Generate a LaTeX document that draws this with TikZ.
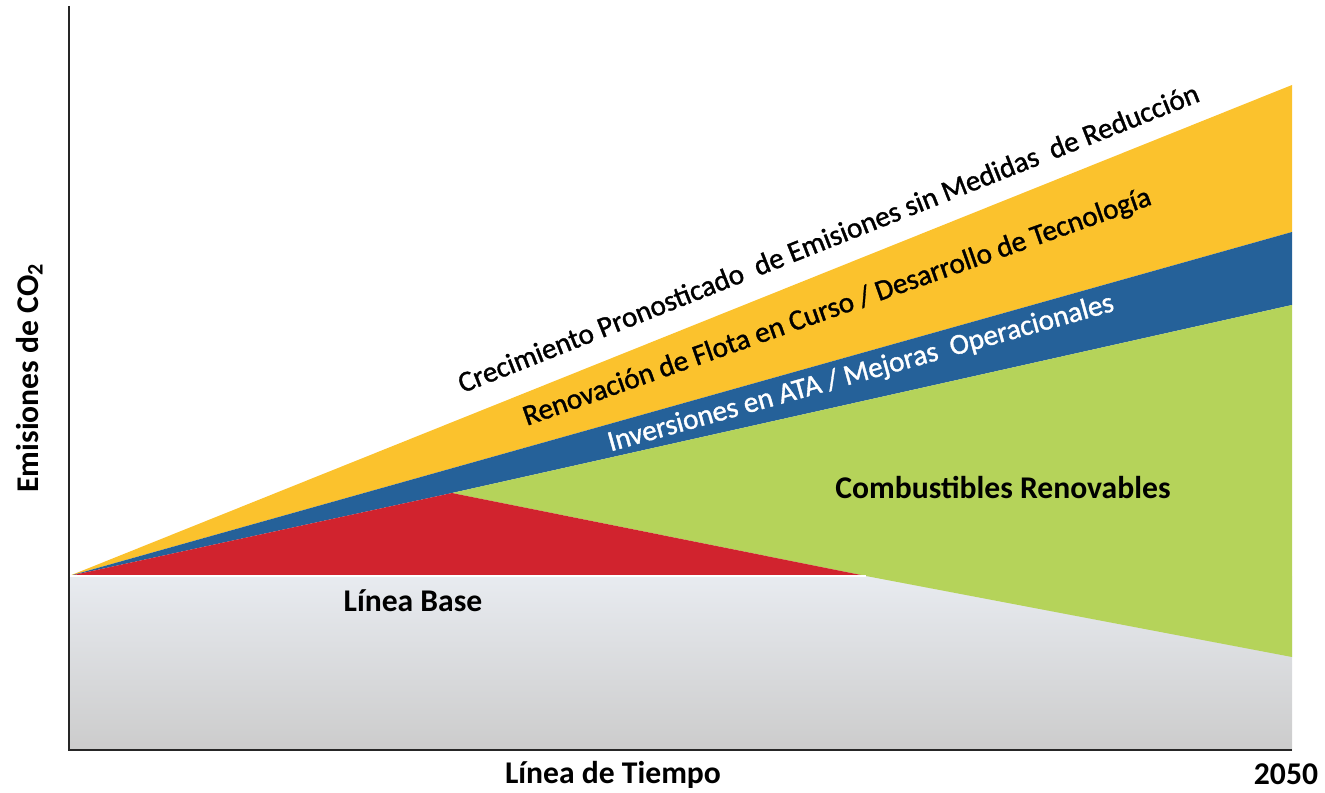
\documentclass[tikz,border=0pt]{standalone}
\usepackage{fontspec}
\setmainfont{Carlito}
\newfontfamily\bandfont{Carlito}[FakeBold=1.2]
\usetikzlibrary{positioning}
\definecolor{growYellow}{RGB}{251,194,45}
\definecolor{ataBlue}{RGB}{37,97,153}
\definecolor{fuelGreen}{RGB}{181,211,90}
\definecolor{baseRed}{RGB}{209,35,46}
\definecolor{baseTop}{RGB}{232,235,240}
\definecolor{baseMid}{RGB}{206,222,233}
\definecolor{baseBot}{RGB}{204,204,204}
\tikzset{
  bandlabel/.style={font=\bandfont\fontsize{16.6}{19}\selectfont, inner sep=0pt, anchor=base},
  arealabel/.style={font=\bfseries\fontsize{18}{21}\selectfont, inner sep=0pt, anchor=base}
}

\begin{document}
\begin{tikzpicture}[x=0.02cm,y=-0.02cm]
        \useasboundingbox (0,0) rectangle (1325,793);
        % Corners of the wedges
        \coordinate (O) at (69,576);
        \coordinate (peak) at (452,493);
        \coordinate (cross) at (866,576);
        \coordinate (yTop) at (1292,85);
        \coordinate (bTop) at (1292,232);
        \coordinate (gTop) at (1292,305);
        \coordinate (gBot) at (1292,657);
        \coordinate (axTop) at (69,6);
        \coordinate (axO) at (69,750);
        \coordinate (axEnd) at (1292,750);

        %-----------------------------------------------
        \shade[top color=baseTop, middle color=baseMid, bottom color=baseBot] (O) rectangle (axEnd);
        \fill[growYellow] (O) -- (yTop) -- (bTop) -- cycle;
        \fill[ataBlue] (O) -- (bTop) -- (gTop) -- (peak) -- cycle;
        \fill[fuelGreen] (peak) -- (gTop) -- (gBot) -- (cross) -- cycle;
        \fill[baseRed] (O) -- (peak) -- (cross) -- cycle;
        \draw[white, line width=.9pt] (O) -- (cross);
        %-----------------------------------------------
        \draw[black!85, line width=1.1pt] (axTop) -- (axO) -- (axEnd);

        % Text
        \node[bandlabel, rotate=21.6] (grow) at (832,247) {Crecimiento Pronosticado~ de Emisiones sin Medidas~ de Reducción};
        \node[bandlabel, rotate=19.5] (fleet) at (840,315) {Renovación de Flota en Curso / Desarrollo de Tecnología};
        \node[bandlabel, rotate=15.6, text=white] (ata) at (863,381) {Inversiones en ATA / Mejoras~ Operacionales};
        \node[arealabel] (fuel) at (1003,499) {Combustibles Renovables};
        \node[arealabel] (base) at (413,611) {Línea Base};
        \node[arealabel] (time) at (613,783) {Línea de Tiempo};
        \node[arealabel] (year) at (1286,784) {2050};
        \node[arealabel, rotate=90] (emis) at (38,378) {Emisiones de CO\textsubscript{2}};

\end{tikzpicture}
\end{document}
